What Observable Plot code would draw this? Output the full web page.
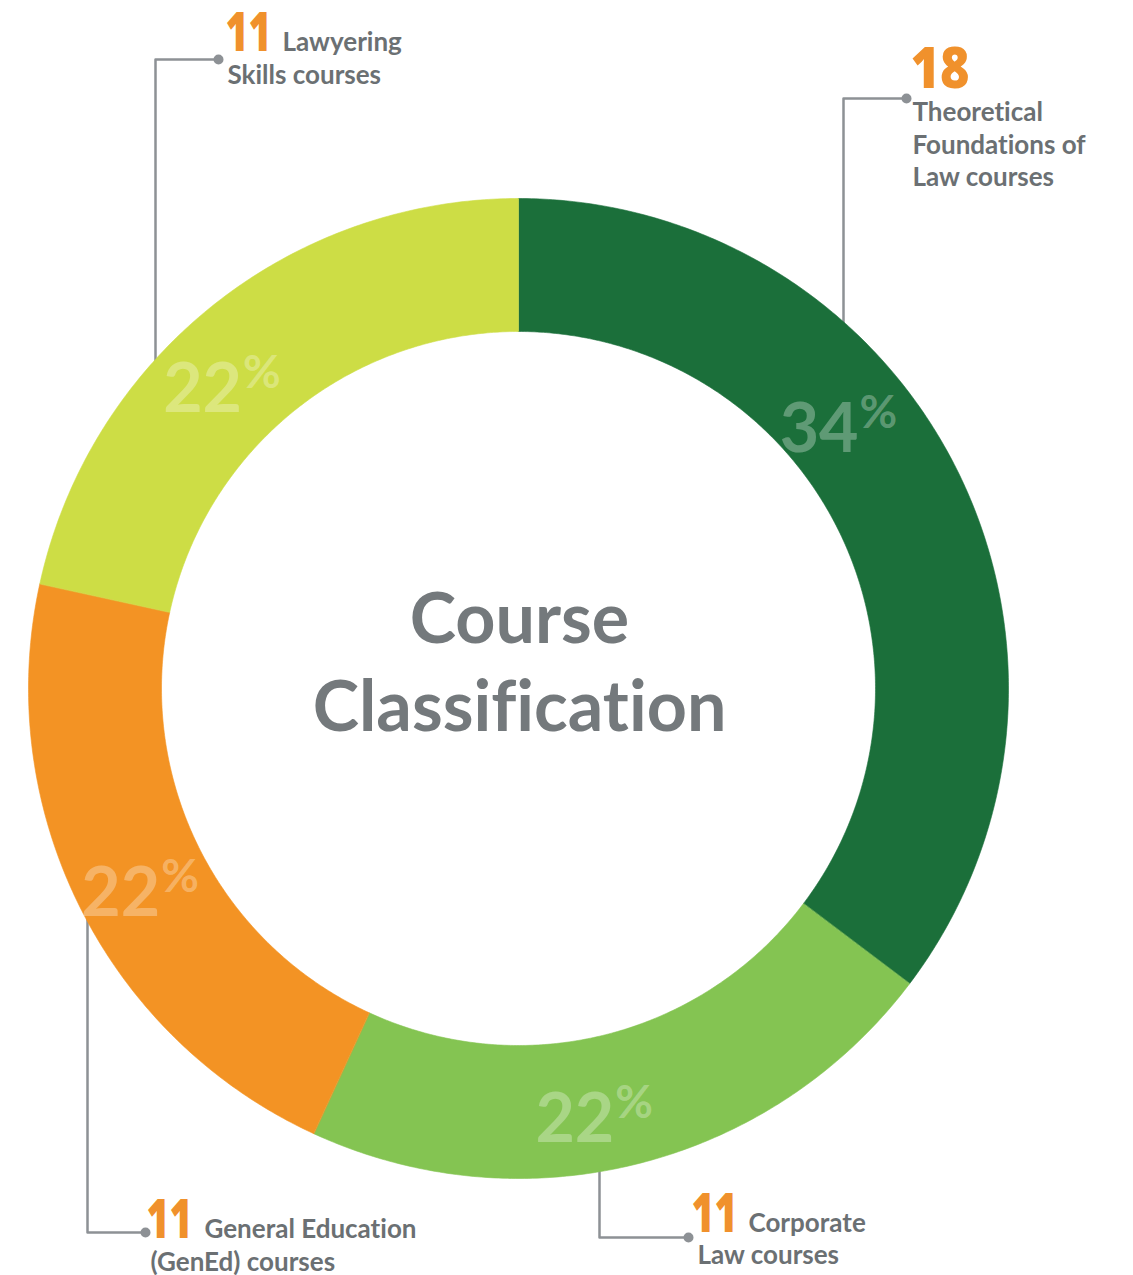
<!DOCTYPE html>
<html><head><meta charset="utf-8">
<script src="https://cdn.jsdelivr.net/npm/d3@7"></script>
<script src="https://cdn.jsdelivr.net/npm/@observablehq/plot@0.6"></script>
<style>body{margin:0;background:#fff} svg{display:block} svg text{font-variant-ligatures:none;font-feature-settings:"liga" 0}</style>
</head><body><div id="chart"></div>
<script>
// ---- data ----
const categories = ["Theoretical Foundations of Law", "Corporate Law", "General Education (GenEd)", "Lawyering Skills"];
const courseCounts = [18, 11, 11, 11];
const percentLabels = [34, 22, 22, 22];
const sliceColors = ["#1b6f3a", "#84c452", "#f39324", "#cddd45"];
const labelLines = [["Theoretical", "Foundations of", "Law courses"], ["Corporate", "Law courses"], ["General Education", "(GenEd) courses"], ["Lawyering", "Skills courses"]];
const titleLines = ["Course", "Classification"];

// ---- layout ----
const W = 1133, H = 1275, CX = 518, CY = 688, R_OUT = 490, R_IN = 357;
const FONT = "Lato, 'Open Sans', sans-serif";
const NUMFONT = "'Open Sans', Lato, sans-serif";
const GRAY = "#6b7073", LINE = "#8d9195", ORANGE = "#f0912c";
// placement of each percentage label within its slice (fraction of the slice's sweep, radius)
const pctFrac = [0.4, 0.545, 0.48, 0.435];
const pctRadius = [418, 433, 424, 422];

const pie = d3.pie().sort(null).value(d => d)(courseCounts);
const polar = (r, a) => [CX + r * Math.sin(a), CY - r * Math.cos(a)];

const ringPts = pie.flatMap((p, i) => {
  const n = Math.ceil((p.endAngle - p.startAngle) / (Math.PI / 360));
  const pts = [];
  for (let k = 0; k <= n; k++) pts.push(polar(R_OUT, p.startAngle + (p.endAngle - p.startAngle) * k / n));
  for (let k = n; k >= 0; k--) pts.push(polar(R_IN, p.startAngle + (p.endAngle - p.startAngle) * k / n));
  return pts.map(([x, y]) => ({x, y, key: i}));
});

const pctRows = pie.map((p, i) => {
  const a = p.startAngle + pctFrac[i] * (p.endAngle - p.startAngle);
  const [x, y] = polar(pctRadius[i], a);
  return {x, y, pct: percentLabels[i]};
});

// leader lines (annotation layout)
const leaderLayout = [
  [[843, 420], [843, 98], [906, 98]],
  [[599, 1100], [599, 1237], [688, 1237]],
  [[87, 850], [87, 1232], [145, 1232]],
  [[155, 420], [155, 59], [218, 59]]
];
const leaderPts = leaderLayout.flatMap((pts, i) => pts.map(([x, y]) => ({x, y, key: i})));
const leaderDots = leaderLayout.map(pts => ({x: pts[pts.length - 1][0], y: pts[pts.length - 1][1]}));

// label text layout: number left + baseline + rendered width, text line baselines
const labelLayout = [
  {num: [910, 87], size: 56, width: 59, lines: [[912, 120], [912, 153], [912, 185]]},
  {num: [691, 1231], size: 55, width: 46, lines: [[748, 1231], [697, 1263]]},
  {num: [146, 1237], size: 55, width: 46, lines: [[204, 1237], [150, 1270]]},
  {num: [225, 50], size: 55, width: 46, lines: [[282, 50], [227, 83]]}
];
const numRows = labelLayout.map((l, i) => ({x: l.num[0], y: l.num[1], size: l.size, width: l.width, text: String(courseCounts[i])}));
const lineRows = labelLayout.flatMap((l, i) => l.lines.map(([x, y], j) => ({x, y, text: labelLines[i][j]})));
const titleRows = titleLines.map((t, j) => ({x: 519, y: 642 + j * 88, text: t}));

const chart = Plot.plot({
  width: W, height: H, margin: 0,
  style: {background: "#ffffff", fontFamily: FONT},
  x: {type: "linear", domain: [0, W], range: [0, W], axis: null},
  y: {type: "linear", domain: [0, H], range: [0, H], axis: null},
  marks: [
    Plot.line(leaderPts, {x: "x", y: "y", z: "key", stroke: LINE, strokeWidth: 2.5}),
    Plot.dot(leaderDots, {x: "x", y: "y", r: 5, fill: LINE, stroke: null}),
    ...sliceColors.map((c, i) => Plot.line(ringPts.filter(d => d.key === i), {
      x: "x", y: "y", fill: c, stroke: c, strokeWidth: 0.6, curve: "linear-closed"
    })),
    Plot.text(pctRows, {x: d => d.x + 16, y: d => d.y + 28, text: d => String(d.pct), textAnchor: "end", lineAnchor: "bottom",
      fontSize: 68, fontWeight: 700, fill: "#ffffff", fillOpacity: 0.3}),
    Plot.text(pctRows, {x: d => d.x + 17, y: d => d.y + 4, text: () => "%", textAnchor: "start", lineAnchor: "bottom",
      fontSize: 46, fontWeight: 700, fill: "#ffffff", fillOpacity: 0.3}),
    Plot.text(titleRows, {x: "x", y: "y", text: "text", textAnchor: "middle", lineAnchor: "bottom",
      fontSize: 70, fontWeight: 700, fill: "#74797c"}),
    Plot.text(numRows, {x: "x", y: "y", text: "text", textAnchor: "start", lineAnchor: "bottom",
      fontFamily: NUMFONT, fontSize: d => d.size, fontWeight: 800, fill: ORANGE}),
    Plot.text(lineRows, {x: "x", y: "y", text: "text", textAnchor: "start", lineAnchor: "bottom",
      fontSize: 26, fontWeight: 700, fill: GRAY})
  ]
});
// condense the count numbers to the reference's narrow heavy digits
const numTexts = Array.from(chart.querySelectorAll("text")).filter(t => {
  const g = t.closest("g");
  return g && (g.getAttribute("font-family") || "").startsWith("'Open Sans'");
});
numTexts.forEach((t, j) => {
  t.setAttribute("textLength", numRows[j].width);
  t.setAttribute("lengthAdjust", "spacingAndGlyphs");
});
document.getElementById("chart").appendChild(chart);
</script>
</body></html>
